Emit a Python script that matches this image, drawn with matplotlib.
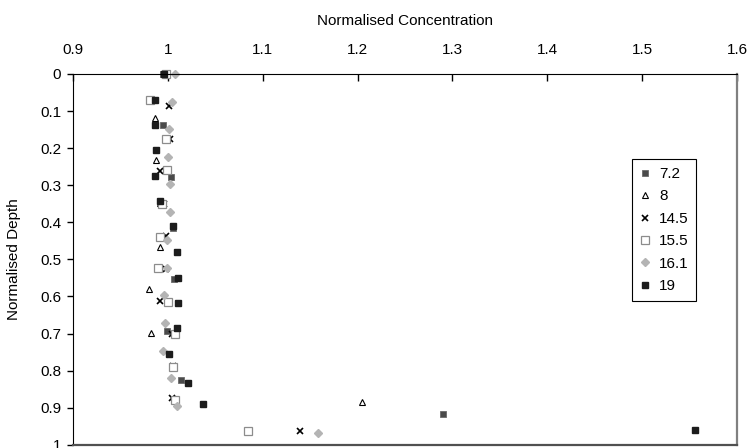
import matplotlib
matplotlib.use("Agg")
import matplotlib.pyplot as plt

plt.rcParams['font.family'] = ['Liberation Sans', 'DejaVu Sans']

# values (x = normalised concentration, y = normalised depth)
conc_72 = [0.995, 0.995, 1.003, 1.006, 1.007, 0.999, 1.014, 1.290]
depth_72 = [0.0, 0.139, 0.277, 0.416, 0.554, 0.693, 0.825, 0.917]

conc_8 = [0.997, 0.986, 0.988, 0.992, 0.992, 0.980, 0.982, 1.205]
depth_8 = [0.0, 0.119, 0.232, 0.348, 0.466, 0.581, 0.698, 0.885]

conc_145 = [0.997, 1.001, 1.002, 0.992, 0.996, 0.998, 0.998, 0.992, 1.004, 1.006, 1.004, 1.139]
depth_145 = [0.0, 0.087, 0.175, 0.262, 0.350, 0.437, 0.525, 0.612, 0.700, 0.787, 0.875, 0.962]

conc_155 = [0.998, 0.981, 0.998, 0.999, 0.994, 0.992, 0.990, 1.000, 1.0075, 1.006, 1.008, 1.085]
depth_155 = [0.0, 0.070, 0.175, 0.258, 0.350, 0.440, 0.524, 0.616, 0.700, 0.790, 0.878, 0.962]

conc_161 = [1.0075, 1.004, 1.001, 1.000, 1.002, 1.002, 0.999, 0.999, 0.996, 0.997, 0.995, 1.003, 1.010, 1.158]
depth_161 = [0.0, 0.075, 0.149, 0.224, 0.298, 0.373, 0.448, 0.522, 0.597, 0.672, 0.746, 0.821, 0.895, 0.968]

conc_19 = [0.996, 0.986, 0.986, 0.988, 0.986, 0.992, 1.005, 1.010, 1.011, 1.011, 1.010, 1.001, 1.021, 1.037, 1.556]
depth_19 = [0.0, 0.069, 0.137, 0.206, 0.274, 0.343, 0.411, 0.480, 0.549, 0.617, 0.686, 0.754, 0.833, 0.891, 0.960]

xticks = [0.9, 1.0, 1.1, 1.2, 1.3, 1.4, 1.5, 1.6]
xtick_labels = ['0.9', '1', '1.1', '1.2', '1.3', '1.4', '1.5', '1.6']
yticks = [0, 0.1, 0.2, 0.3, 0.4, 0.5, 0.6, 0.7, 0.8, 0.9, 1]
ytick_labels = ['0', '0.1', '0.2', '0.3', '0.4', '0.5', '0.6', '0.7', '0.8', '0.9', '1']

fig = plt.figure(figsize=(7.52, 4.48), dpi=100)
ax = fig.add_axes([0.097, 0.007, 0.883, 0.828])

ms = 4.5
ax.plot(conc_72, depth_72, 's', ms=ms, color='#4a4a4a', mec='#6a6a6a', mew=0.6, label='7.2', clip_on=False)
ax.plot(conc_8, depth_8, '^', ms=ms, mfc='white', mec='black', mew=0.8, label='8', clip_on=False)
ax.plot(conc_145, depth_145, 'x', ms=ms, color='black', mew=1.2, label='14.5', clip_on=False)
ax.plot(conc_155, depth_155, 's', ms=ms + 1, mfc='white', mec='#8c8c8c', mew=0.9, label='15.5', clip_on=False)
ax.plot(conc_161, depth_161, 'D', ms=ms - 0.8, color='#b4b4b4', label='16.1', clip_on=False)
ax.plot(conc_19, depth_19, 's', ms=ms, color='#1c1c1c', label='19', clip_on=False)

ax.set_xlim(0.9, 1.6)
ax.set_ylim(1, 0)
ax.xaxis.set_ticks_position('top')
ax.xaxis.set_label_position('top')
ax.set_xticks(xticks, xtick_labels)
ax.set_yticks(yticks, ytick_labels)
ax.tick_params(axis='x', direction='in', length=5, width=1, labelsize=11, pad=12)
ax.tick_params(axis='y', direction='out', length=4.5, width=1, labelsize=11, pad=4)
ax.set_xlabel('Normalised Concentration', fontsize=11, labelpad=13.5)
ax.set_ylabel('Normalised Depth', fontsize=11, labelpad=14)

ax.spines['top'].set_color('black')
ax.spines['left'].set_color('black')
ax.spines['right'].set_color('#808080')
ax.spines['right'].set_linewidth(1.6)
ax.spines['bottom'].set_color('#505050')
ax.spines['bottom'].set_linewidth(1.6)

leg = ax.legend(loc='upper left', bbox_to_anchor=(0.83, 0.79), fontsize=11,
                frameon=True, fancybox=False, edgecolor='black', framealpha=1,
                handlelength=0.8, handletextpad=0.5, borderpad=0.5, labelspacing=0.55)
leg.get_frame().set_linewidth(0.8)

fig.savefig('out.png', dpi=100)
